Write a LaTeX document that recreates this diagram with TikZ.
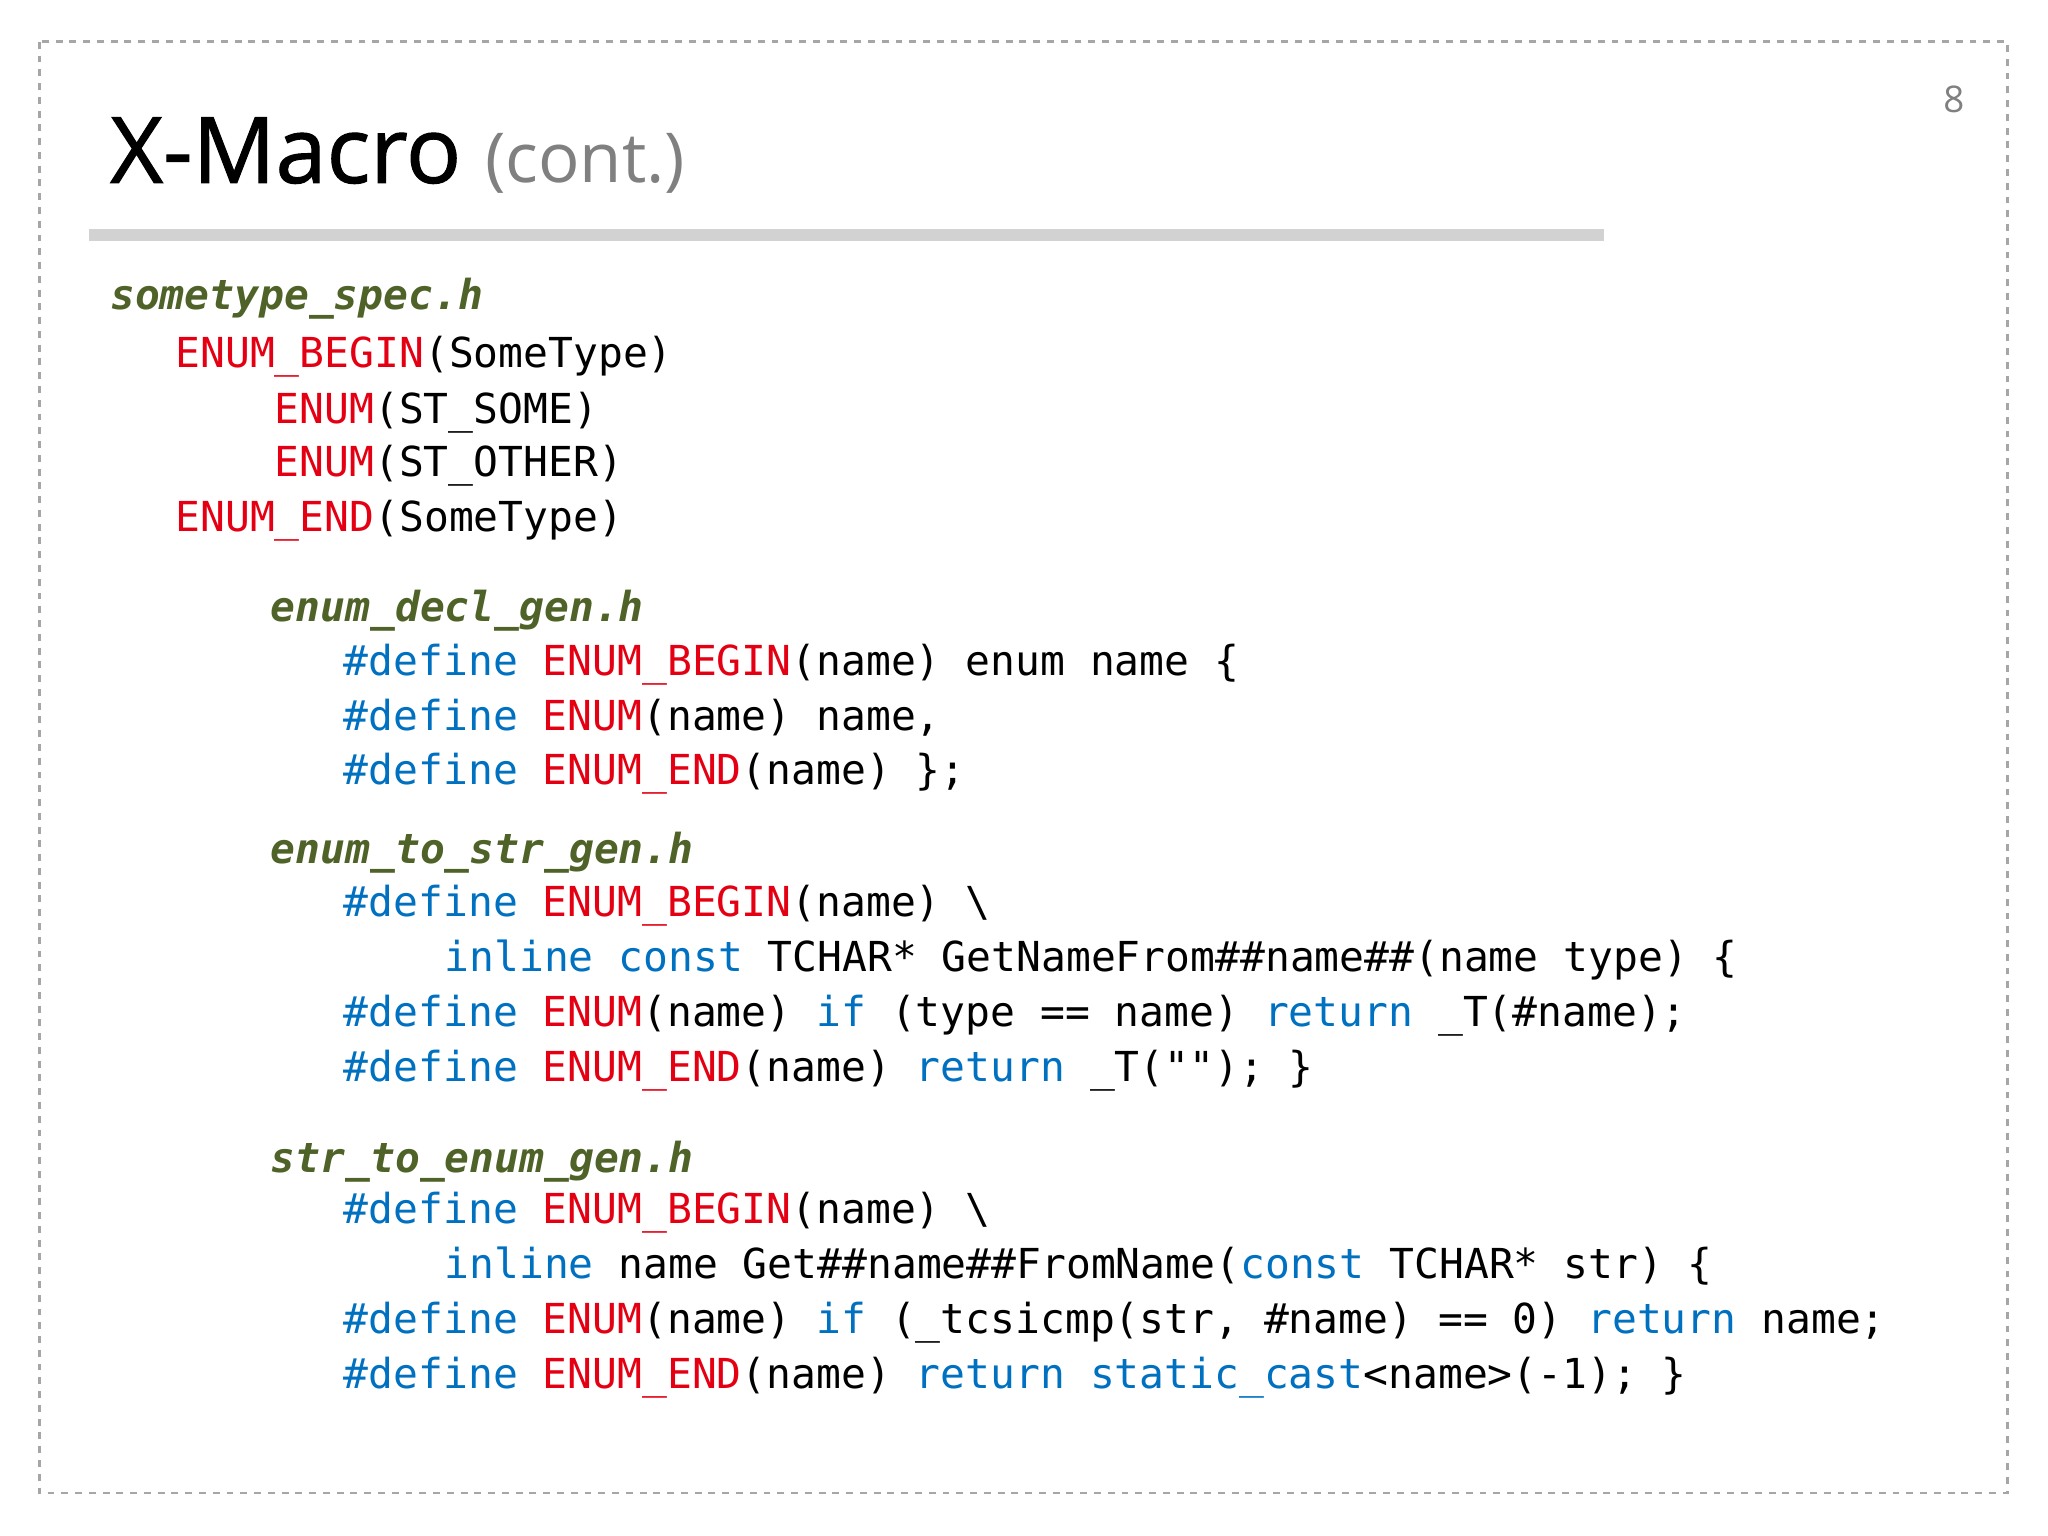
\documentclass[tikz,border=0pt]{standalone}
\usepackage{fontspec}
\newfontfamily\code{DejaVu Sans Mono}
\newfontfamily\titlefont[FakeBold=1.2]{Open Sans}
\newfontfamily\subtfont{Open Sans}
\definecolor{kred}{RGB}{228,0,18}
\definecolor{kblue}{RGB}{0,112,192}
\definecolor{kolive}{RGB}{79,98,40}
\definecolor{kgray}{RGB}{128,128,128}
\newcommand\R[1]{\textcolor{kred}{#1}}
\newcommand\B[1]{\textcolor{kblue}{#1}}
\begin{document}
\begin{tikzpicture}[x=0.02cm,y=-0.02cm,
  ln/.style={anchor=base west,inner sep=0,font=\code\fontsize{18}{20}\selectfont},
  fn/.style={anchor=base west,inner sep=0,text=kolive,font=\code\bfseries\itshape\fontsize{18}{20}\selectfont}]
\useasboundingbox (0,0) rectangle (1568,1176);
\draw[gray!70,dashed,line width=1.2pt] (30,32) rectangle (1537,1143);
\draw[gray!35,line width=5pt] (68,180) -- (1228,180);
\node[anchor=base west,inner sep=0] (title) at (84,140) {\titlefont\fontsize{40}{44}\selectfont X-Macro \textcolor{kgray}{\subtfont\fontsize{30}{32}\selectfont(cont.)}};
\node[anchor=base,inner sep=0,text=kgray] (pg) at (1496,86) {\subtfont\fontsize{16}{18}\selectfont 8};
\node[fn] (f1) at (84,237) {sometype\_spec.h};
\node[ln] (a1) at (134,281) {\R{ENUM\_BEGIN}(SomeType)};
\node[ln] (a2) at (210,324) {\R{ENUM}(ST\_SOME)};
\node[ln] (a3) at (210,365) {\R{ENUM}(ST\_OTHER)};
\node[ln] (a4) at (134,407) {\R{ENUM\_END}(SomeType)};
\node[fn] (f2) at (207,476) {enum\_decl\_gen.h};
\node[ln] (b1) at (263,517) {\B{\#define} \R{ENUM\_BEGIN}(name) enum name \{};
\node[ln] (b2) at (263,559) {\B{\#define} \R{ENUM}(name) name,};
\node[ln] (b3) at (263,601) {\B{\#define} \R{ENUM\_END}(name) \};};
\node[fn] (f3) at (207,661) {enum\_to\_str\_gen.h};
\node[ln] (c1) at (263,702) {\B{\#define} \R{ENUM\_BEGIN}(name) \textbackslash};
\node[ln] (c2) at (340,744) {\B{inline const} TCHAR* GetNameFrom\#\#name\#\#(name type) \{};
\node[ln] (c3) at (263,786) {\B{\#define} \R{ENUM}(name) \B{if} (type == name) \B{return} \_T(\#name);};
\node[ln] (c4) at (263,828) {\B{\#define} \R{ENUM\_END}(name) \B{return} \_T(""); \}};
\node[fn] (f4) at (207,898) {str\_to\_enum\_gen.h};
\node[ln] (d1) at (263,937) {\B{\#define} \R{ENUM\_BEGIN}(name) \textbackslash};
\node[ln] (d2) at (340,979) {\B{inline} name Get\#\#name\#\#FromName(\B{const} TCHAR* str) \{};
\node[ln] (d3) at (263,1021) {\B{\#define} \R{ENUM}(name) \B{if} (\_tcsicmp(str, \#name) == 0) \B{return} name;};
\node[ln] (d4) at (263,1063) {\B{\#define} \R{ENUM\_END}(name) \B{return} \B{static\_cast}<name>(-1); \}};
\end{tikzpicture}
\end{document}
